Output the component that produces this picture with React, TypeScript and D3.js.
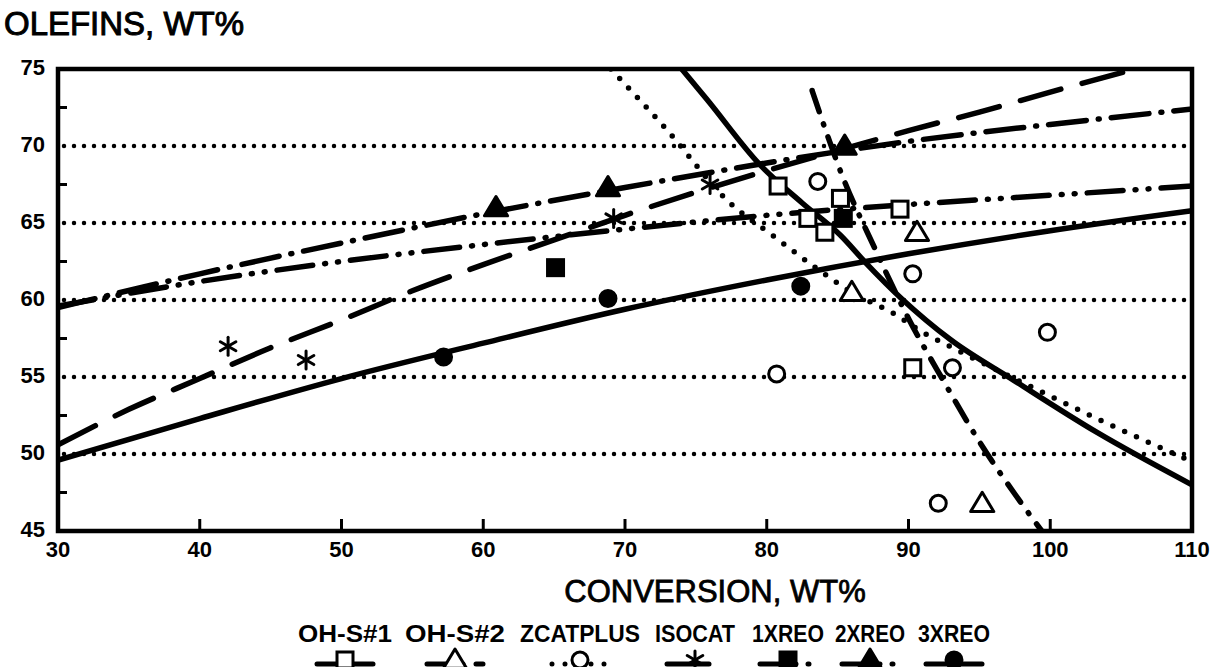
import * as d3 from 'd3';

// axis ticks
const xTicks = [30, 40, 50, 60, 70, 80, 90, 100, 110];
const yTicks = [45, 50, 55, 60, 65, 70, 75];
const gridY = [50, 55, 60, 65, 70];
const yMinorTicks = [47.5, 52.5, 57.5, 62.5, 67.5, 72.5];

// measured points [conversion, olefins]
const ohs1Pts = [[80.8, 67.4], [82.9, 65.3], [84.1, 64.4], [85.2, 66.6], [89.4, 65.9], [90.3, 55.6]];
const ohs2Pts = [[86, 60.5], [90.6, 64.4], [95.2, 46.8]];
const zcatPts = [[80.7, 55.2], [83.6, 67.7], [90.3, 61.7], [92.1, 46.8], [93.1, 55.6], [99.8, 57.9]];
const isocatPts = [[42, 57], [47.5, 56.1], [69.2, 65.3], [76, 67.5]];
const reo1Pts = [[65.1, 62.1], [85.4, 65.3]];
const reo2Pts = [[60.9, 66], [68.8, 67.3], [85.5, 70]];
const reo3Pts = [[57.2, 56.3], [68.8, 60.1], [82.4, 60.9]];

// fitted curves
const ohs1Fit = [[74, 75], [75.8, 73], [79.5, 68.8], [82.5, 66.3], [85.2, 64.2], [87, 62.4], [89.5, 60.1], [93, 57.4], [97.4, 54.8], [103.3, 51.4], [110, 48]];
const ohs2Fit = [[83.2, 73.6], [85.4, 67.9], [87.6, 63.4], [90, 58.8], [92.5, 54.7], [95, 50.8], [97.5, 47.4], [99.4, 45]];
const zcatFit = [[69, 75], [73, 71], [77.4, 66.3], [80.4, 64.2], [83.3, 62.2], [86, 60.5], [89, 59.1], [91, 57.9], [93.1, 56.9], [98.8, 54.3], [103.3, 52.3], [110, 49.5]];
const isocatFit = [[30, 50.6], [35, 52.9], [40, 54.9], [45, 56.9], [50, 58.7], [55, 60.6], [60, 62.3], [65, 63.9], [70, 65.5], [75, 67], [80, 68.4], [85, 69.7], [90, 71], [95, 72.2], [100, 73.5], [106, 75]];
const reo1Fit = [[30, 59.6], [40, 61.2], [50, 62.5], [60, 63.6], [70, 64.6], [80, 65.5], [90, 66.2], [100, 66.8], [110, 67.4]];
const reo2Fit = [[30, 59.5], [40, 61.7], [50, 63.7], [60, 65.6], [70, 67.3], [80, 68.9], [90, 70.3], [100, 71.4], [110, 72.4]];
const reo3Fit = [[30, 49.6], [40, 52.3], [50, 54.9], [60, 57.2], [70, 59.4], [80, 61.3], [90, 63], [100, 64.5], [110, 65.8]];

const seriesNames = ['OH-S#1', 'OH-S#2', 'ZCATPLUS', 'ISOCAT', '1XREO', '2XREO', '3XREO'];

const series = [
  { name: seriesNames[0], pts: ohs1Pts, fit: ohs1Fit, marker: 'square', dash: null },
  { name: seriesNames[1], pts: ohs2Pts, fit: ohs2Fit, marker: 'triangle', dash: '22 13 1 13' },
  { name: seriesNames[2], pts: zcatPts, fit: zcatFit, marker: 'circle', dash: '0 13' },
  { name: seriesNames[3], pts: isocatPts, fit: isocatFit, marker: 'star', dash: '42 22' },
  { name: seriesNames[4], pts: reo1Pts, fit: reo1Fit, marker: 'fsquare', dash: '36 12 1 12 1 12' },
  { name: seriesNames[5], pts: reo2Pts, fit: reo2Fit, marker: 'ftriangle', dash: '38 12 1 12' },
  { name: seriesNames[6], pts: reo3Pts, fit: reo3Fit, marker: 'fcircle', dash: null },
];

// legend layout
const legendX = [345, 455, 580, 695, 788, 870, 954];
const legendW = [94, 100, 120, 80, 72, 70, 72];

const W = 1224;
const H = 667;
const left = 58, right = 1192, top = 69, bottom = 531;
const font = 'Liberation Sans, Arial, sans-serif';

function Marker({ type, cx, cy }: { type: string; cx: number; cy: number }) {
  const sw = 3;
  if (type === 'square' || type === 'fsquare') {
    const s = 16;
    return (
      <rect x={cx - s / 2} y={cy - s / 2} width={s} height={s}
        fill={type === 'fsquare' ? '#000' : '#fff'} stroke='#000' strokeWidth={sw} />
    );
  }
  if (type === 'triangle' || type === 'ftriangle') {
    const s = 11;
    const d = `M${cx},${cy - s} L${cx + s * 1.05},${cy + s * 0.75} L${cx - s * 1.05},${cy + s * 0.75} Z`;
    return <path d={d} fill={type === 'ftriangle' ? '#000' : '#fff'} stroke='#000' strokeWidth={sw} strokeLinejoin='round' />;
  }
  if (type === 'circle' || type === 'fcircle') {
    return <circle cx={cx} cy={cy} r={8} fill={type === 'fcircle' ? '#000' : '#fff'} stroke='#000' strokeWidth={sw} />;
  }
  // asterisk
  const r = 9;
  return (
    <g stroke='#000' strokeWidth={3} strokeLinecap='round'>
      {[90, 30, 150].map((a) => {
        const rad = (a * Math.PI) / 180;
        const dx = r * Math.cos(rad), dy = r * Math.sin(rad);
        return <line key={a} x1={cx - dx} y1={cy - dy} x2={cx + dx} y2={cy + dy} />;
      })}
    </g>
  );
}

function App() {
  const x = d3.scaleLinear().domain([30, 110]).range([left, right]);
  const y = d3.scaleLinear().domain([45, 75]).range([bottom, top]);

  const line = d3
    .line<number[]>()
    .x((d) => x(d[0]))
    .y((d) => y(d[1]))
    .curve(d3.curveMonotoneX);

  return (
    <svg width={W} height={H} viewBox={`0 0 ${W} ${H}`}
      style={{ position: 'absolute', left: 0, top: 0, background: '#fff' }}>
      <defs>
        <clipPath id='plot'>
          <rect x={left} y={top} width={right - left} height={bottom - top} />
        </clipPath>
      </defs>

      <text x={4} y={35} fontFamily={font} fontSize={33} stroke='#000' strokeWidth={1}
        textLength={240} lengthAdjust='spacingAndGlyphs'>OLEFINS, WT%</text>

      {/* dotted gridlines */}
      {gridY.map((v) => (
        <line key={v} x1={left + 6} x2={right - 4} y1={y(v)} y2={y(v)}
          stroke='#000' strokeWidth={4.5} strokeDasharray='0 10' strokeLinecap='round' />
      ))}

      {/* minor y ticks, x ticks */}
      {yMinorTicks.map((v) => (
        <line key={v} x1={left} x2={left + 9} y1={y(v)} y2={y(v)} stroke='#000' strokeWidth={3} />
      ))}
      {xTicks.slice(1, -1).map((v) => (
        <line key={v} x1={x(v)} x2={x(v)} y1={bottom} y2={bottom - 12} stroke='#000' strokeWidth={3} />
      ))}

      {/* fitted lines */}
      <g clipPath='url(#plot)'>
        {series.map((s) => (
          <path key={s.name} d={line(s.fit) || ''} fill='none' stroke='#000' strokeWidth={5.5}
            strokeDasharray={s.dash || undefined} strokeLinecap='round' strokeLinejoin='round' />
        ))}
      </g>

      {/* markers */}
      {series.map((s) => (
        <g key={s.name}>
          {s.pts.map((p, i) => (
            <Marker key={i} type={s.marker} cx={x(p[0])} cy={y(p[1])} />
          ))}
        </g>
      ))}

      {/* frame */}
      <rect x={left} y={top} width={right - left} height={bottom - top} fill='none' stroke='#000' strokeWidth={4.5} />

      {/* tick labels */}
      {xTicks.map((v) => (
        <text key={v} x={x(v)} y={557} textAnchor='middle' fontFamily={font} fontWeight='bold' fontSize={22}>{v}</text>
      ))}
      {yTicks.map((v) => (
        <text key={v} x={45} y={y(v) - 2} dy='0.35em' textAnchor='end' fontFamily={font} fontWeight='bold' fontSize={22}>{v}</text>
      ))}

      <text x={715} y={602} textAnchor='middle' fontFamily={font} fontSize={31} stroke='#000' strokeWidth={0.8}>CONVERSION, WT%</text>

      {/* legend */}
      {series.map((s, i) => (
        <g key={s.name}>
          <text x={legendX[i]} y={642} textAnchor='middle' fontFamily={font} fontWeight='bold' fontSize={24}
            textLength={legendW[i]} lengthAdjust='spacingAndGlyphs'>{s.name}</text>
          <line x1={legendX[i] - 28} x2={legendX[i] + 28} y1={664} y2={664} stroke='#000' strokeWidth={5}
            strokeDasharray={s.dash || undefined} strokeLinecap='round' />
          <Marker type={s.marker} cx={legendX[i]} cy={660} />
        </g>
      ))}
    </svg>
  );
}

export default App;
